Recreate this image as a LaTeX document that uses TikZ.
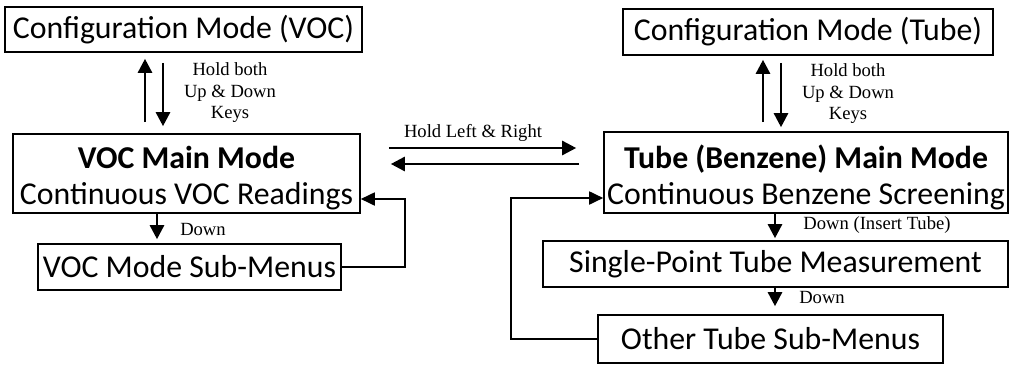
\documentclass[tikz,border=0pt]{standalone}
\usepackage{fontspec}
\setmainfont{Liberation Serif}
\newfontfamily\boxfont{Carlito}
\usepackage{xcolor}
\usepackage{tikz}
\usetikzlibrary{arrows.meta, positioning, calc}

\begin{document}
\begin{tikzpicture}[
    x=1pt, y=-1pt,
    modebox/.style={rectangle, draw=black, line width=1.6pt, inner sep=0pt, align=center, font=\boxfont\fontsize{31.8}{36.5}\selectfont},
    keylabel/.style={align=center, inner sep=0pt, font=\fontsize{18.6}{21.5}\selectfont},
    keyarrow/.style={line width=2.6pt, -{Triangle[length=14pt, width=14pt]}},
    backarrow/.style={line width=1.8pt, -{Triangle[length=14pt, width=13pt]}}
]
    \useasboundingbox (0,0) rectangle (1013,365);

    % VOC side boxes
    \node[modebox, minimum width=357pt, minimum height=45pt] (cfgvoc) at (183.5,29.5) {Configuration Mode (VOC)};
    \node[modebox, minimum width=347pt, minimum height=79pt] (vocmain) at (186.5,173.5) {\rule{0pt}{31pt}\textbf{VOC Main Mode}\\Continuous VOC Readings};
    \node[modebox, minimum width=303pt, minimum height=46pt] (vocsub) at (189.5,267) {VOC Mode Sub-Menus};

    % Tube side boxes
    \node[modebox, minimum width=370pt, minimum height=46pt] (cfgtube) at (808,32) {Configuration Mode (Tube)};
    \node[modebox, minimum width=404pt, minimum height=81pt] (tubemain) at (806,172.5) {\rule{0pt}{33pt}\textbf{Tube (Benzene) Main Mode}\\Continuous Benzene Screening};
    \node[modebox, minimum width=465pt, minimum height=46pt] (single) at (775.5,264) {Single-Point Tube Measurement};
    \node[modebox, minimum width=345pt, minimum height=48pt] (other) at (770.5,339) {Other Tube Sub-Menus};

    % Configuration arrows
    \draw[keyarrow] ([xshift=-41.5pt, yshift=11pt]vocmain.north) -- ([xshift=-38.5pt, yshift=-6pt]cfgvoc.south);
    \draw[keyarrow] ([xshift=-20.5pt, yshift=-10pt]cfgvoc.south) -- ([xshift=-23.5pt, yshift=7pt]vocmain.north);
    \node[keylabel] (lblvoc) at (230,93) {Hold both\\Up \& Down\\Keys};

    \draw[keyarrow] ([xshift=-43pt, yshift=9pt]tubemain.north) -- ([xshift=-45pt, yshift=-4pt]cfgtube.south);
    \draw[keyarrow] ([xshift=-27pt, yshift=-7pt]cfgtube.south) -- ([xshift=-25pt, yshift=4pt]tubemain.north);
    \node[keylabel] (lbltube) at (848,94) {Hold both\\Up \& Down\\Keys};

    % Switching between modes
    \draw[keyarrow] ([xshift=28pt, yshift=25.5pt]vocmain.east) -- ([xshift=-27pt, yshift=24.5pt]tubemain.west);
    \draw[keyarrow] ([xshift=-24pt, yshift=8.5pt]tubemain.west) -- ([xshift=30pt, yshift=9.5pt]vocmain.east);
    \node[keylabel] (lblswitch) at (473,133) {Hold Left \& Right};

    % Down keys
    \draw[keyarrow] ([xshift=-29.5pt]vocmain.south) -- ([xshift=-32.5pt, yshift=4pt]vocsub.north);
    \node[keylabel] (lblvocdown) at (203,229) {Down};
    \draw[keyarrow] ([xshift=-31pt]tubemain.south) -- ([xshift=-0.5pt, yshift=2pt]single.north);
    \node[keylabel] (lblinsert) at (877,225) {Down (Insert Tube)};
    \draw[keyarrow] ([xshift=-0.5pt]single.south) -- ([xshift=4.5pt, yshift=8pt]other.north);
    \node[keylabel] (lbltubedown) at (822,297) {Down};

    % Return paths
    \draw[backarrow] (vocsub.east) -- ++(63,0) |- ([yshift=-25.5pt]vocmain.east);
    \draw[backarrow] (other.west) -- ++(-86,0) |- ([yshift=-25.5pt]tubemain.west);
\end{tikzpicture}
\end{document}
